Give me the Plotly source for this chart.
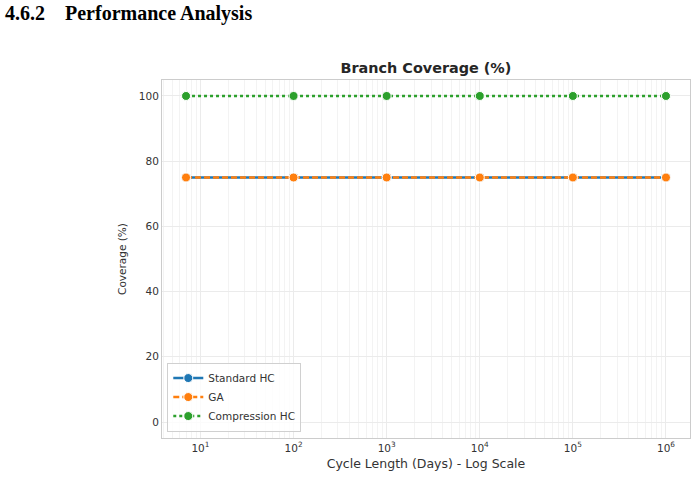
import plotly.graph_objects as go

cycle_lengths = [7, 100, 1000, 10000, 100000, 1000000]
standard_hc = [75, 75, 75, 75, 75, 75]
ga = [75, 75, 75, 75, 75, 75]
compression_hc = [100, 100, 100, 100, 100, 100]

x_tickvals = [10, 100, 1000, 10000, 100000, 1000000]
x_ticktext = ["10<sup>1</sup>", "10<sup>2</sup>", "10<sup>3</sup>", "10<sup>4</sup>", "10<sup>5</sup>", "10<sup>6</sup>"]
y_tickvals = [0, 20, 40, 60, 80, 100]

FONT = "DejaVu Sans"

fig = go.Figure()
fig.add_trace(go.Scatter(x=cycle_lengths, y=standard_hc, name="Standard HC", mode="lines+markers",
                         line=dict(color="#1f77b4", width=2.5, dash="solid"),
                         marker=dict(size=9, color="#1f77b4", line=dict(color="white", width=1))))
fig.add_trace(go.Scatter(x=cycle_lengths, y=ga, name="GA", mode="lines+markers",
                         line=dict(color="#ff7f0e", width=2.5, dash="6px,3px"),
                         marker=dict(size=9, color="#ff7f0e", line=dict(color="white", width=1))))
fig.add_trace(go.Scatter(x=cycle_lengths, y=compression_hc, name="Compression HC", mode="lines+markers",
                         line=dict(color="#2ca02c", width=2.5, dash="dot"),
                         marker=dict(size=9, color="#2ca02c", line=dict(color="white", width=1))))

fig.update_layout(
    width=696, height=479,
    margin=dict(l=162, r=6, t=80, b=41),
    paper_bgcolor="white", plot_bgcolor="white",
    font=dict(family=FONT, size=10.5, color="#333333"),
    title=dict(text="<b>Branch Coverage (%)</b>", x=0.612, xanchor="center", y=0.858, yanchor="middle",
               font=dict(family=FONT, size=14.4, color="#262626")),
    legend=dict(x=0.01, y=0.018, xanchor="left", yanchor="bottom",
                bgcolor="rgba(255,255,255,0.8)", bordercolor="#d0d0d0", borderwidth=1,
                font=dict(family=FONT, size=10.5, color="#333333"), tracegroupgap=0,
                itemwidth=30),
    annotations=[dict(text="<b>4.6.2&nbsp;&nbsp;&nbsp;&nbsp;Performance Analysis</b>", xref="paper", yref="paper",
                      x=-159/528, y=1 + (80-14)/358, xanchor="left", yanchor="middle", showarrow=False,
                      font=dict(family="Liberation Serif", size=20, color="black"))],
)

fig.update_xaxes(type="log", range=[0.587, 6.258], tickvals=x_tickvals, ticktext=x_ticktext,
                 showgrid=True, gridcolor="#ebebeb", gridwidth=1,
                 minor=dict(showgrid=True, gridcolor="#f3f3f3", gridwidth=0.8, dtick="D1"),
                 showline=True, linecolor="#cccccc", linewidth=1, mirror=True,
                 ticks="", zeroline=False, tickfont=dict(size=10.5, color="#333333"),
                 title=dict(text="Cycle Length (Days) - Log Scale", font=dict(size=12.5, color="#333333"), standoff=6))
fig.update_yaxes(range=[-4.9, 104.9], tickvals=y_tickvals,
                 showgrid=True, gridcolor="#ebebeb", gridwidth=1,
                 showline=True, linecolor="#cccccc", linewidth=1, mirror=True,
                 ticks="", zeroline=False, tickfont=dict(size=10.5, color="#333333"),
                 title=dict(text="Coverage (%)", font=dict(size=10.5, color="#333333"), standoff=10))

fig.write_html("out.html")
